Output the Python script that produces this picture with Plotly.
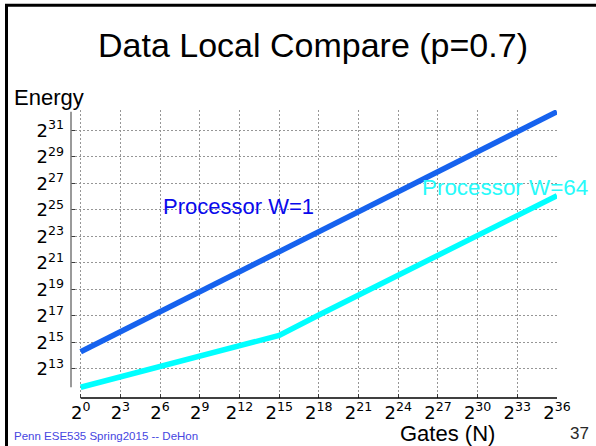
import numpy as np
import plotly.graph_objects as go

# ---- data (log2 scale values) ----
gates_log2 = [0, 3, 6, 9, 12, 15, 18, 21, 24, 27, 30, 33, 36]
energy_log2_w1 = [14.30, 15.81, 17.32, 18.82, 20.33, 21.84, 23.35,
                  24.85, 26.36, 27.87, 29.38, 30.89, 32.40]
energy_log2_w64 = [11.62, 12.40, 13.17, 13.93, 14.73, 15.53, 17.07,
                   18.57, 20.07, 21.57, 23.07, 24.57, 26.07]

x_tick_exps = list(range(0, 37, 3))
y_tick_exps = list(range(13, 32, 2))

series_names = ["Processor W=1", "Processor W=64"]

gates = 2.0 ** np.array(gates_log2)
e_w1 = 2.0 ** np.array(energy_log2_w1)
e_w64 = 2.0 ** np.array(energy_log2_w64)

# ---- page geometry ----
FIG_W, FIG_H = 596, 446
L, R, T, B = 71, 39, 110, 48
PW, PH = FIG_W - L - R, FIG_H - T - B


def px(xp):
    return (xp - L) / PW


def py(yp):
    return 1 - (yp - T) / PH


LOG2 = np.log10(2.0)
x_range = [-0.733 * LOG2, 36.0 * LOG2]
y_range = [10.81 * LOG2, 32.53 * LOG2]

SANS = "Liberation Sans, Arial, sans-serif"
TICKFONT = dict(family="DejaVu Sans", size=18, color="black")
BLUE_LINE = "rgb(22,98,238)"
BLUE_TEXT = "rgb(10,10,235)"
CYAN = "rgb(0,255,255)"
CYAN_TEXT = "rgb(40,250,250)"

fig = go.Figure()
fig.add_trace(go.Scatter(x=gates, y=e_w1, mode="lines", name=series_names[0],
                         line=dict(color=BLUE_LINE, width=5.5), showlegend=False))
fig.add_trace(go.Scatter(x=gates, y=e_w64, mode="lines", name=series_names[1],
                         line=dict(color=CYAN, width=5.5), showlegend=False))

grid = dict(showgrid=True, gridcolor="rgb(150,150,150)", gridwidth=1,
            griddash="2px,2px", showline=False, zeroline=False,
            ticks="inside", ticklen=4, tickcolor="rgb(60,60,60)",
            tickfont=TICKFONT)

fig.update_xaxes(type="log", range=x_range,
                 tickvals=[2.0 ** k for k in x_tick_exps],
                 ticktext=[f"2<sup>{k}</sup>" for k in x_tick_exps],
                 ticklabelstandoff=2, **grid)
fig.update_yaxes(type="log", range=y_range,
                 tickvals=[2.0 ** k for k in y_tick_exps],
                 ticktext=[f"2<sup>{k}</sup>" for k in y_tick_exps],
                 ticklabelstandoff=6, **grid)

all_e = np.concatenate([e_w1, e_w64])
shapes = [
    # y spine, spanning the data extent
    dict(type="line", xref="paper", yref="y", x0=0, x1=0,
         y0=all_e.min(), y1=all_e.max(),
         line=dict(color="rgb(120,120,120)", width=1.5)),
    # x spine
    dict(type="line", xref="x", yref="paper", x0=gates[0], x1=gates[-1],
         y0=0, y1=0, line=dict(color="black", width=1.5)),
    # slide frame
    dict(type="line", xref="paper", yref="paper", x0=px(6.5), x1=px(6.5),
         y0=py(4), y1=py(450), line=dict(color="black", width=3)),
    dict(type="line", xref="paper", yref="paper", x0=px(5), x1=px(600),
         y0=py(5.3), y1=py(5.3), line=dict(color="black", width=3)),
]

annotations = [
    dict(text="Data Local Compare (p=0.7)", x=px(313), y=py(44.5),
         xanchor="center", yanchor="middle",
         font=dict(family=SANS, size=34, color="black")),
    dict(text="Energy", x=px(11.5), y=py(97.1), xanchor="left", yanchor="middle",
         font=dict(family=SANS, size=22, color="black")),
    dict(text="Gates (N)", x=px(447), y=py(433), xanchor="center",
         yanchor="middle", font=dict(family=SANS, size=22, color="black")),
    dict(text="Penn ESE535 Spring2015 -- DeHon", x=px(11.5), y=py(435.9),
         xanchor="left", yanchor="middle",
         font=dict(family=SANS, size=11.5, color="rgb(70,70,225)")),
    dict(text="37", x=px(591), y=py(433.7), xanchor="right", yanchor="middle",
         font=dict(family=SANS, size=17, color="rgb(40,40,40)")),
    dict(text=series_names[0], x=px(160.5), y=py(206.1), xanchor="left",
         yanchor="middle", font=dict(family=SANS, size=22, color=BLUE_TEXT)),
    dict(text=series_names[1], x=px(419.5), y=py(187.1), xanchor="left",
         yanchor="middle", font=dict(family=SANS, size=22.4, color=CYAN_TEXT)),
]
for a in annotations:
    a.update(xref="paper", yref="paper", showarrow=False)

fig.update_layout(width=FIG_W, height=FIG_H,
                  margin=dict(l=L, r=R, t=T, b=B, pad=0),
                  paper_bgcolor="white", plot_bgcolor="white",
                  shapes=shapes, annotations=annotations)

fig.write_html("out.html")
